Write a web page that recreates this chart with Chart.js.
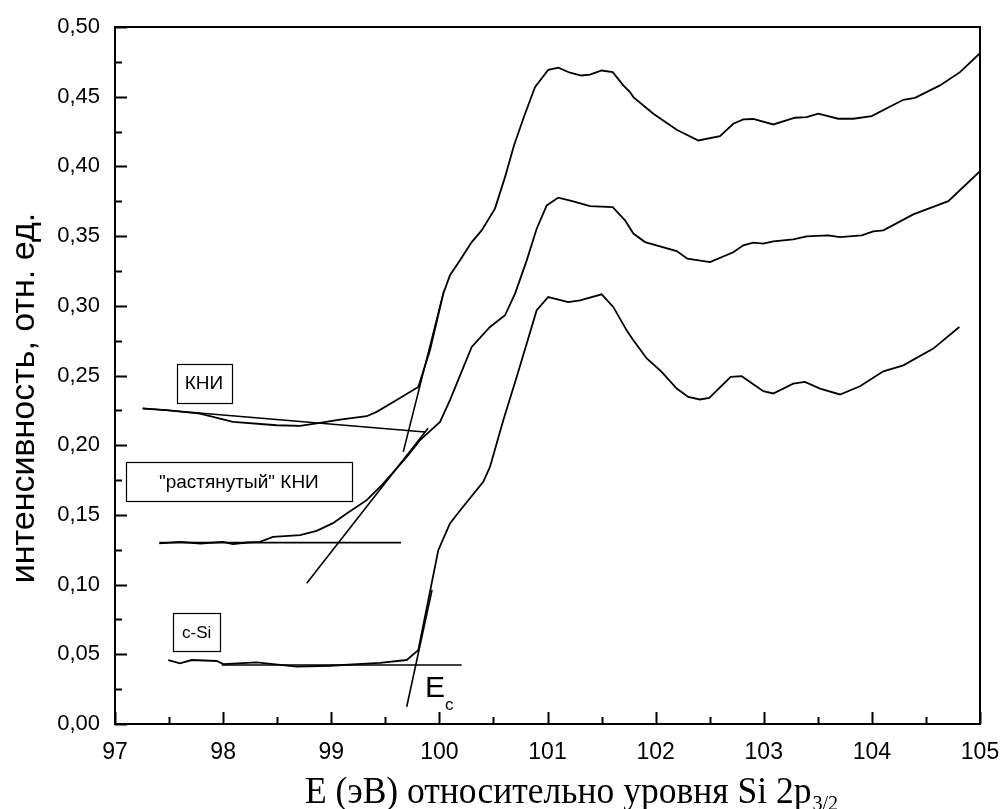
<!DOCTYPE html>
<html>
<head>
<meta charset="utf-8">
<script src="https://cdn.jsdelivr.net/npm/chart.js@4/dist/chart.umd.min.js"></script>
<style>
  html, body { margin: 0; padding: 0; background: #fff; }
  #wrap { width: 1003px; height: 809px; }
</style>
</head>
<body>
<div id="wrap"><canvas id="c" width="1003" height="809"></canvas></div>
<script>
// Photon energy relative to the Si 2p3/2 level (eV) and relative intensity
const energyKNI = [97.256, 97.478, 97.786, 98.091, 98.495, 98.711, 98.865, 99.081, 99.328, 99.420,
  99.574, 99.805, 99.913, 100.036, 100.098, 100.191, 100.299, 100.391, 100.514, 100.607,
  100.690, 100.784, 100.884, 101.007, 101.100, 101.208, 101.312, 101.393, 101.501, 101.603,
  101.701, 101.763, 101.794, 101.979, 102.195, 102.395, 102.595, 102.718, 102.811, 102.903,
  103.088, 103.289, 103.397, 103.504, 103.689, 103.828, 103.998, 104.291, 104.399, 104.630,
  104.815, 105.0];
const intensKNI = [0.2263, 0.2251, 0.2227, 0.2167, 0.2143, 0.2138, 0.2156, 0.2184, 0.2208, 0.2239,
  0.2310, 0.2418, 0.2681, 0.3087, 0.3219, 0.3326, 0.3457, 0.3541, 0.3697, 0.3923,
  0.4150, 0.4360, 0.4568, 0.4693, 0.4708, 0.4672, 0.4652, 0.4659, 0.4688, 0.4676,
  0.4581, 0.4533, 0.4497, 0.4378, 0.4263, 0.4186, 0.4217, 0.4306, 0.4337, 0.4340,
  0.4301, 0.4349, 0.4353, 0.4378, 0.4342, 0.4342, 0.4361, 0.4478, 0.4492, 0.4581,
  0.4676, 0.4812];

const energyStretched = [97.41, 97.60, 97.79, 98.00, 98.09, 98.22, 98.34, 98.461, 98.711, 98.865,
  99.016, 99.143, 99.328, 99.481, 99.698, 99.821, 100.006, 100.098, 100.299, 100.468,
  100.607, 100.700, 100.808, 100.900, 100.993, 101.100, 101.238, 101.393, 101.603, 101.717,
  101.794, 101.902, 102.195, 102.293, 102.503, 102.718, 102.811, 102.903, 102.996, 103.088,
  103.273, 103.397, 103.597, 103.705, 103.906, 104.013, 104.106, 104.383, 104.707, 105.0];
const intensStretched = [0.1295, 0.1307, 0.1295, 0.1307, 0.1290, 0.1302, 0.1307, 0.1343, 0.1355, 0.1386,
  0.1441, 0.1510, 0.1606, 0.1725, 0.1916, 0.2036, 0.2167, 0.2323, 0.2705, 0.2848,
  0.2932, 0.3087, 0.3326, 0.3553, 0.3720, 0.3776, 0.3749, 0.3715, 0.3708, 0.3613,
  0.3518, 0.3457, 0.3393, 0.3338, 0.3314, 0.3384, 0.3434, 0.3453, 0.3446, 0.3462,
  0.3477, 0.3498, 0.3505, 0.3493, 0.3505, 0.3534, 0.3541, 0.3656, 0.3751, 0.3966];

const energySi = [97.493, 97.601, 97.709, 97.941, 98.002, 98.311, 98.680, 98.988, 99.451, 99.698,
  99.805, 99.990, 100.098, 100.206, 100.406, 100.468, 100.591, 100.715, 100.900, 101.007,
  101.192, 101.301, 101.501, 101.608, 101.732, 101.794, 101.918, 102.056, 102.195, 102.302,
  102.410, 102.496, 102.694, 102.796, 102.996, 103.088, 103.273, 103.381, 103.520, 103.705,
  103.890, 104.106, 104.291, 104.568, 104.753, 104.809];
const intensSi = [0.0459, 0.0435, 0.0459, 0.0452, 0.0430, 0.0442, 0.0411, 0.0418, 0.0439, 0.0459,
  0.0530, 0.1247, 0.1439, 0.1546, 0.1737, 0.1844, 0.2179, 0.2490, 0.2968, 0.3063,
  0.3027, 0.3039, 0.3082, 0.2992, 0.2824, 0.2753, 0.2622, 0.2526, 0.2406, 0.2346,
  0.2328, 0.2339, 0.2490, 0.2495, 0.2387, 0.2371, 0.2442, 0.2454, 0.2406, 0.2364,
  0.2423, 0.2530, 0.2573, 0.2693, 0.2812, 0.2848];

// Construction lines used to find the edge position Ec (start / end points)
const baseKNIE = [97.256, 99.867],   baseKNII = [0.2265, 0.2095];
const edgeKNIE = [99.666, 100.043],  edgeKNII = [0.1952, 0.3111];
const baseStrE = [97.41, 99.645],    baseStrI = [0.1301, 0.1301];
const edgeStrE = [98.773, 99.895],   edgeStrI = [0.1009, 0.2122];
const baseSiE  = [97.987, 100.206],  baseSiI  = [0.0423, 0.0423];
const edgeSiE  = [99.698, 99.932],   edgeSiI  = [0.0124, 0.0961];

// Axis ranges and tick steps
const X_MIN = 97, X_MAX = 105, X_STEP = 1;
const Y_MIN = 0, Y_MAX = 0.5, Y_STEP = 0.05;

const pts = (xs, ys) => xs.map((v, i) => ({ x: v, y: ys[i] }));
const line = (xs, ys, w) => ({
  data: pts(xs, ys), borderColor: '#000', borderWidth: w, pointRadius: 0,
  tension: 0, fill: false
});

const SANS = '"Liberation Sans", Arial, sans-serif';
const SERIF = '"Liberation Serif", "Times New Roman", serif';

// Boxed sample labels, placed in axis units
const labels = [
  { text: 'КНИ', x1: 97.569, x2: 98.076, y1: 0.2586, y2: 0.2303, size: 19 },
  { text: '"растянутый" КНИ', x1: 97.102, x2: 99.189, y1: 0.1876, y2: 0.1594, size: 19 },
  { text: 'c-Si', x1: 97.539, x2: 97.971, y1: 0.0794, y2: 0.0518, size: 17 }
];

const decorations = {
  id: 'decorations',
  afterDatasetsDraw(chart) {
    const { ctx, chartArea: a, scales: { x, y } } = chart;
    ctx.save();
    ctx.strokeStyle = '#000';
    ctx.fillStyle = '#000';

    // frame
    ctx.lineWidth = 2;
    ctx.strokeRect(a.left, a.top, a.right - a.left, a.bottom - a.top);

    // inward tick marks (major + minor)
    ctx.beginPath();
    for (let k = 0; k <= (X_MAX - X_MIN) * 2; k++) {
      const v = X_MIN + k * 0.5;
      const px = Math.round(x.getPixelForValue(v)) + 0.5;
      const len = k % 2 === 0 ? 12 : 7;
      ctx.moveTo(px, a.bottom);
      ctx.lineTo(px, a.bottom - len);
    }
    for (let k = 0; k <= Math.round((Y_MAX - Y_MIN) / 0.025); k++) {
      const v = Y_MIN + k * 0.025;
      const py = Math.round(y.getPixelForValue(v)) + 0.5;
      const len = k % 2 === 0 ? 12 : 7;
      ctx.moveTo(a.left, py);
      ctx.lineTo(a.left + len, py);
    }
    ctx.stroke();

    // boxed labels
    ctx.lineWidth = 1.2;
    ctx.textAlign = 'center';
    ctx.textBaseline = 'middle';
    labels.forEach(l => {
      const px1 = x.getPixelForValue(l.x1), px2 = x.getPixelForValue(l.x2);
      const py1 = y.getPixelForValue(l.y1), py2 = y.getPixelForValue(l.y2);
      ctx.strokeRect(Math.round(px1) + 0.5, Math.round(py1) + 0.5,
                     Math.round(px2 - px1), Math.round(py2 - py1));
      ctx.font = l.size + 'px ' + SANS;
      ctx.fillText(l.text, (px1 + px2) / 2, (py1 + py2) / 2 + 1);
    });

    // Ec marker
    ctx.textAlign = 'left';
    ctx.textBaseline = 'alphabetic';
    const ex = x.getPixelForValue(99.867), ey = y.getPixelForValue(0.0194);
    ctx.font = '30px ' + SANS;
    ctx.fillText('E', ex, ey);
    ctx.font = '17px ' + SANS;
    ctx.fillText('c', ex + 20, ey + 13);

    // y axis title
    ctx.save();
    ctx.translate(34, 398);
    ctx.rotate(-Math.PI / 2);
    ctx.textAlign = 'center';
    ctx.font = '34px ' + SANS;
    ctx.fillText('интенсивность, отн. ед.', 0, 0);
    ctx.restore();

    // x axis title with subscript (slightly condensed serif)
    ctx.save();
    ctx.translate(305, 803);
    ctx.scale(0.96, 1);
    ctx.textAlign = 'left';
    ctx.font = '37px ' + SERIF;
    const main = 'E (эВ) относительно уровня Si 2p';
    ctx.fillText(main, 0, 0);
    const w = ctx.measureText(main).width;
    ctx.font = '21px ' + SERIF;
    ctx.fillText('3/2', w + 1, 7);
    ctx.restore();

    ctx.restore();
  }
};

new Chart(document.getElementById('c'), {
  type: 'line',
  data: {
    datasets: [
      line(energyKNI, intensKNI, 1.8),
      line(energyStretched, intensStretched, 1.8),
      line(energySi, intensSi, 1.8),
      line(baseKNIE, baseKNII, 1.6),
      line(edgeKNIE, edgeKNII, 1.6),
      line(baseStrE, baseStrI, 1.6),
      line(edgeStrE, edgeStrI, 1.6),
      line(baseSiE, baseSiI, 1.6),
      line(edgeSiE, edgeSiI, 1.6)
    ]
  },
  options: {
    responsive: false,
    animation: false,
    devicePixelRatio: 1,
    layout: { padding: { top: 27, right: 23, left: 0, bottom: 0 } },
    plugins: { legend: { display: false }, tooltip: { enabled: false } },
    scales: {
      x: {
        type: 'linear', min: X_MIN, max: X_MAX,
        grid: { display: false, drawTicks: false },
        border: { display: false },
        ticks: {
          stepSize: X_STEP, color: '#000', padding: 15,
          font: { family: SANS, size: 23 },
          maxRotation: 0, autoSkip: false,
          callback: v => String(v)
        },
        afterFit: s => { s.height = 85; s.paddingLeft = 0; s.paddingRight = 0; }
      },
      y: {
        type: 'linear', min: Y_MIN, max: Y_MAX,
        grid: { display: false, drawTicks: false },
        border: { display: false },
        ticks: {
          stepSize: Y_STEP, color: '#000', padding: 15,
          font: { family: SANS, size: 22 },
          autoSkip: false,
          callback: v => v.toFixed(2).replace('.', ',')
        },
        afterFit: s => { s.width = 115; s.paddingTop = 0; s.paddingBottom = 0; }
      }
    }
  },
  plugins: [decorations]
});
</script>
</body>
</html>
